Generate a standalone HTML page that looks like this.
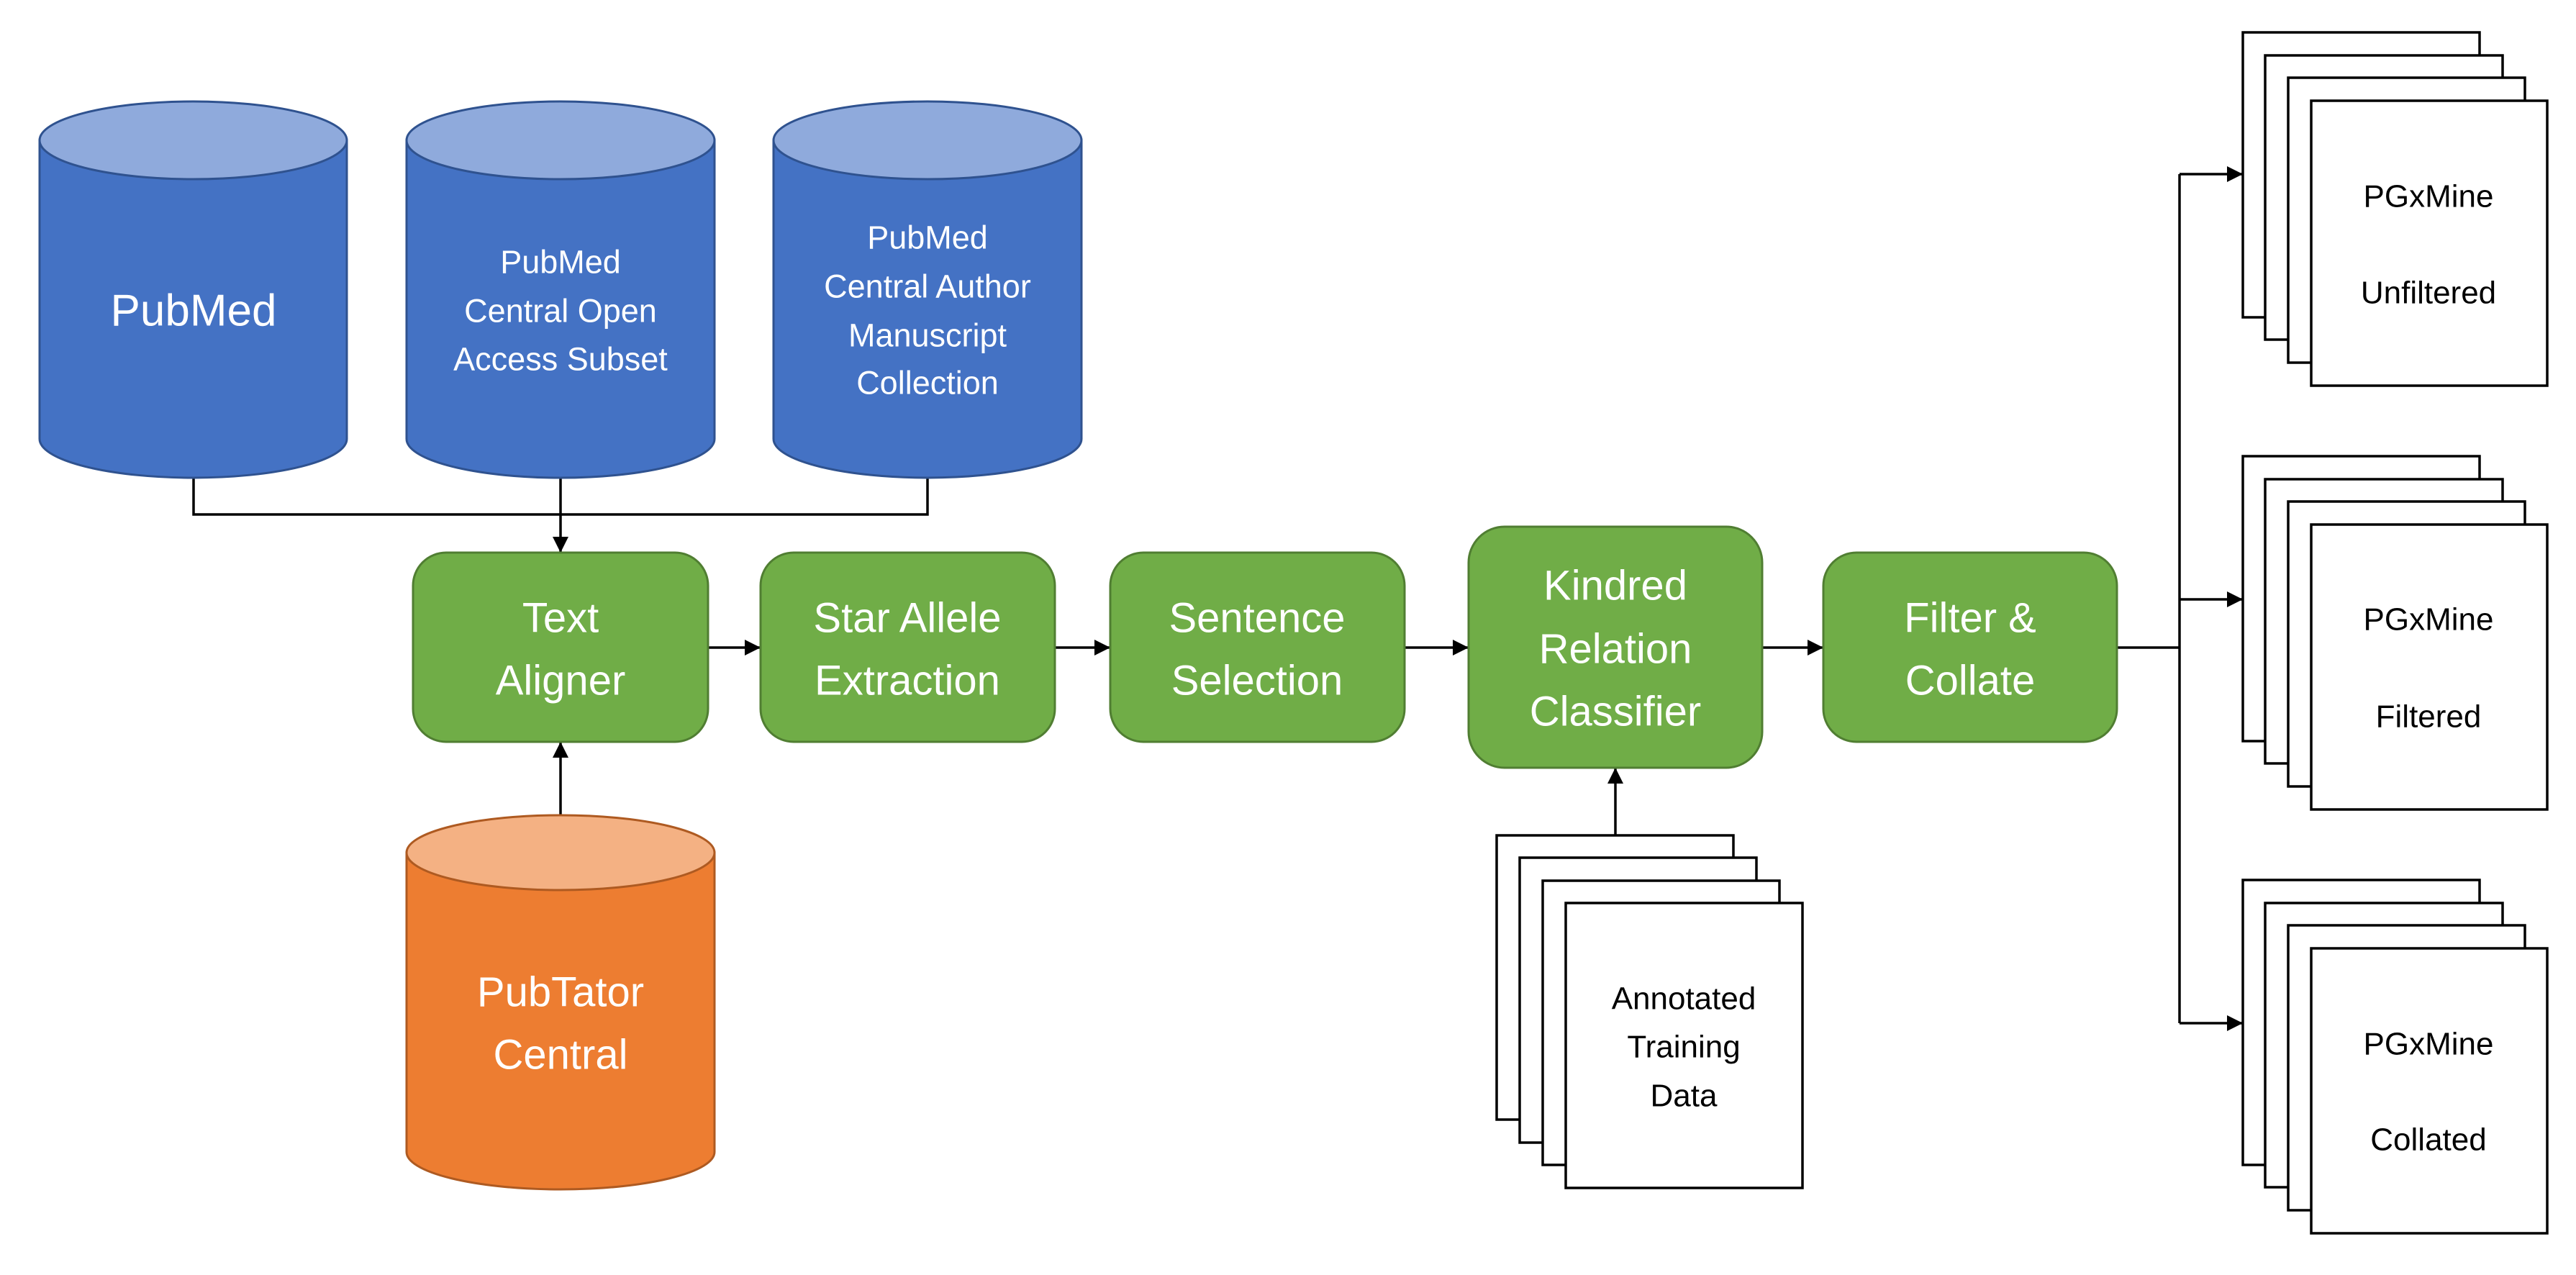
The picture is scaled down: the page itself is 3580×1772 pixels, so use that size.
<!DOCTYPE html>
<html><head><meta charset="utf-8"><style>
html,body{margin:0;padding:0;background:#fff}
svg{display:block}
text{font-family:"Liberation Sans",sans-serif;text-anchor:middle;dominant-baseline:central}
</style></head><body>
<svg width="3580" height="1772" viewBox="0 0 3580 1772" xmlns="http://www.w3.org/2000/svg">
<defs>
<marker id="ar" markerWidth="10" markerHeight="10" refX="9" refY="5" orient="auto" markerUnits="userSpaceOnUse" viewBox="0 0 10 10">
<path d="M0,0 L10,5 L0,10 z" fill="#000"/></marker>
<marker id="a2" viewBox="0 0 10 10" refX="10" refY="5" markerWidth="22" markerHeight="22" markerUnits="userSpaceOnUse" orient="auto"><path d="M0,0 L10,5 L0,10 z" fill="#000"/></marker>
</defs>
<g stroke="#000" stroke-width="3.5" fill="none">
<polyline points="269,664 269,715 1289,715 1289,664"/>
<line x1="779" y1="664" x2="779" y2="768" marker-end="url(#a2)"/>
<line x1="779" y1="1132" x2="779" y2="1031" marker-end="url(#a2)"/>
<line x1="984" y1="900" x2="1057" y2="900" marker-end="url(#a2)"/>
<line x1="1466" y1="900" x2="1543" y2="900" marker-end="url(#a2)"/>
<line x1="1952" y1="900" x2="2041" y2="900" marker-end="url(#a2)"/>
<line x1="2449" y1="900" x2="2534" y2="900" marker-end="url(#a2)"/>
<line x1="2245" y1="1161" x2="2245" y2="1067" marker-end="url(#a2)"/>
<line x1="2942" y1="900" x2="3029" y2="900"/>
<line x1="3029" y1="242" x2="3029" y2="1422"/>
<line x1="3029" y1="242" x2="3117" y2="242" marker-end="url(#a2)"/>
<line x1="3029" y1="833" x2="3117" y2="833" marker-end="url(#a2)"/>
<line x1="3029" y1="1422" x2="3117" y2="1422" marker-end="url(#a2)"/>
</g>
<!-- cylinders -->
<g stroke-width="3">
<g stroke="#2F528F">
<path d="M55,195 L55,610 A213.5,54 0 0 0 482,610 L482,195 Z" fill="#4472C4"/>
<ellipse cx="268.5" cy="195" rx="213.5" ry="54" fill="#8FAADC"/>
<path d="M565,195 L565,610 A214,54 0 0 0 993,610 L993,195 Z" fill="#4472C4"/>
<ellipse cx="779" cy="195" rx="214" ry="54" fill="#8FAADC"/>
<path d="M1075,195 L1075,610 A214,54 0 0 0 1503,610 L1503,195 Z" fill="#4472C4"/>
<ellipse cx="1289" cy="195" rx="214" ry="54" fill="#8FAADC"/>
</g>
<g stroke="#AE5A21">
<path d="M565,1185 L565,1601 A214,52 0 0 0 993,1601 L993,1185 Z" fill="#ED7D31"/>
<ellipse cx="779" cy="1185" rx="214" ry="52" fill="#F4B183"/>
</g>
</g>
<g fill="#fff">
<text x="269" y="432" font-size="62">PubMed</text>
<g font-size="45"><text x="779" y="364">PubMed</text><text x="779" y="432">Central Open</text><text x="779" y="499">Access Subset</text>
<text x="1289" y="330">PubMed</text><text x="1289" y="398">Central Author</text><text x="1289" y="466">Manuscript</text><text x="1289" y="532">Collection</text></g>
<g font-size="58"><text x="779" y="1379">PubTator</text><text x="779" y="1466">Central</text></g>
</g>
<!-- green boxes -->
<g fill="#70AD47" stroke="#507E32" stroke-width="3">
<rect x="574" y="768" width="410" height="263" rx="46"/>
<rect x="1057" y="768" width="409" height="263" rx="46"/>
<rect x="1543" y="768" width="409" height="263" rx="46"/>
<rect x="2041" y="732" width="408" height="335" rx="50"/>
<rect x="2534" y="768" width="408" height="263" rx="46"/>
</g>
<g fill="#fff" font-size="58">
<text x="779" y="859">Text</text><text x="779" y="946">Aligner</text>
<text x="1261" y="859">Star Allele</text><text x="1261" y="946">Extraction</text>
<text x="1747" y="859">Sentence</text><text x="1747" y="946">Selection</text>
<text x="2245" y="814">Kindred</text><text x="2245" y="902">Relation</text><text x="2245" y="989">Classifier</text>
<text x="2738" y="859">Filter &amp;</text><text x="2738" y="946">Collate</text>
</g>
<!-- doc stacks -->
<g fill="#fff" stroke="#000" stroke-width="3.5">
<rect x="2080" y="1161" width="329" height="395"/><rect x="2112" y="1192" width="329" height="396"/><rect x="2144" y="1224" width="329" height="395"/><rect x="2176" y="1255" width="329" height="396"/>
<g id="st"><rect x="3117" y="45" width="329" height="396"/><rect x="3148" y="77" width="330" height="395"/><rect x="3180" y="108" width="329" height="396"/><rect x="3212" y="140" width="328" height="396"/></g>
<use href="#st" y="589"/>
<use href="#st" y="1178"/>
</g>
<g fill="#000" font-size="44">
<text x="2340" y="1388">Annotated</text><text x="2340" y="1455">Training</text><text x="2340" y="1523">Data</text>
<text x="3375" y="273">PGxMine</text><text x="3375" y="407">Unfiltered</text>
<text x="3375" y="861">PGxMine</text><text x="3375" y="996">Filtered</text>
<text x="3375" y="1451">PGxMine</text><text x="3375" y="1584">Collated</text>
</g>
</svg>
</body></html>
